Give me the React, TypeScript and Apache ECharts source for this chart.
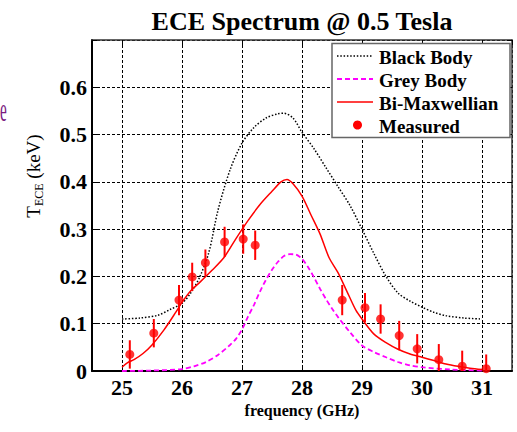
import { useEffect, useRef } from 'react';
import * as echarts from 'echarts';

const SERIF = '"Liberation Serif", "DejaVu Serif", serif';

// Series names, in legend order
const seriesNames = ['Black Body', 'Grey Body', 'Bi-Maxwellian', 'Measured'];

// Black-body emission curve (GHz, keV)
const blackX = [25.0, 25.3, 25.6, 25.8, 26.0, 26.15, 26.3, 26.45, 26.6, 26.8, 27.0, 27.2, 27.4, 27.6, 27.7, 27.85, 28.0, 28.2, 28.4, 28.6, 28.8, 29.0, 29.2, 29.4, 29.6, 29.8, 30.0, 30.2, 30.4, 30.7, 31.0];
const blackY = [0.110, 0.112, 0.118, 0.130, 0.143, 0.166, 0.200, 0.252, 0.340, 0.425, 0.482, 0.515, 0.535, 0.544, 0.545, 0.535, 0.505, 0.470, 0.430, 0.390, 0.350, 0.300, 0.248, 0.200, 0.165, 0.148, 0.135, 0.124, 0.117, 0.112, 0.110];

// Grey-body emission curve
const greyX = [25.0, 25.5, 26.0, 26.2, 26.4, 26.6, 26.8, 26.9, 27.0, 27.1, 27.2, 27.3, 27.4, 27.5, 27.6, 27.7, 27.8, 27.9, 28.0, 28.1, 28.2, 28.3, 28.4, 28.5, 28.6, 28.8, 29.0, 29.2, 29.4, 29.6, 29.8, 30.0, 30.5, 31.0];
const greyY = [0.000, 0.001, 0.004, 0.010, 0.019, 0.034, 0.055, 0.068, 0.088, 0.115, 0.140, 0.168, 0.193, 0.214, 0.231, 0.243, 0.247, 0.246, 0.237, 0.220, 0.198, 0.174, 0.152, 0.132, 0.114, 0.082, 0.054, 0.040, 0.029, 0.019, 0.012, 0.008, 0.003, 0.001];

// Bi-Maxwellian model curve
const biMaxX = [25.0, 25.1, 25.2, 25.35, 25.5, 25.7, 25.9, 26.0, 26.15, 26.3, 26.5, 26.7, 26.9, 27.1, 27.3, 27.5, 27.65, 27.75, 27.85, 28.0, 28.15, 28.3, 28.45, 28.6, 28.75, 28.9, 29.0, 29.2, 29.4, 29.6, 29.8, 30.0, 30.2, 30.4, 30.6, 30.8, 31.0];
const biMaxY = [0.008, 0.018, 0.024, 0.037, 0.055, 0.087, 0.125, 0.145, 0.170, 0.188, 0.213, 0.240, 0.280, 0.318, 0.352, 0.380, 0.400, 0.405, 0.396, 0.370, 0.330, 0.290, 0.240, 0.208, 0.168, 0.128, 0.110, 0.078, 0.060, 0.046, 0.036, 0.029, 0.022, 0.015, 0.010, 0.006, 0.003];

// Measured ECE channels with their uncertainties
const measX = [25.13, 25.53, 25.95, 26.17, 26.39, 26.71, 27.02, 27.22, 28.67, 29.05, 29.31, 29.62, 29.92, 30.28, 30.67, 31.07];
const measY = [0.035, 0.080, 0.150, 0.199, 0.229, 0.273, 0.279, 0.266, 0.150, 0.134, 0.110, 0.075, 0.047, 0.024, 0.010, 0.005];
const measErr = [0.030, 0.030, 0.032, 0.030, 0.028, 0.032, 0.031, 0.031, 0.032, 0.031, 0.031, 0.031, 0.031, 0.033, 0.033, 0.030];

const pairs = (xs: number[], ys: number[]) => xs.map((x, i) => [x, ys[i]]);

const GRID = { left: 92, top: 40, right: 5, bottom: 61 };

const legendRows = [56, 79, 102, 125];
const LEGEND_Z = 100;

function buildOption(): echarts.EChartsOption {
  const tickFont = { fontFamily: SERIF, fontWeight: 'bold' as const, fontSize: 22, color: '#000' };
  const splitLine = { show: true, lineStyle: { color: '#000', type: [3, 2] as number[], width: 1 } };

  const legendChildren: any[] = [
    {
      type: 'rect',
      z: LEGEND_Z,
      shape: { x: 332, y: 43.5, width: 178, height: 94 },
      style: { fill: '#fff', stroke: '#666', lineWidth: 1.5 },
    },
    {
      type: 'line',
      z: LEGEND_Z + 1,
      shape: { x1: 337, y1: legendRows[0], x2: 373, y2: legendRows[0] },
      style: { stroke: '#000', lineWidth: 1.5, lineDash: [1.5, 1.8] },
    },
    {
      type: 'line',
      z: LEGEND_Z + 1,
      shape: { x1: 337, y1: legendRows[1], x2: 373, y2: legendRows[1] },
      style: { stroke: '#ff00ff', lineWidth: 1.8, lineDash: [5, 3] },
    },
    {
      type: 'line',
      z: LEGEND_Z + 1,
      shape: { x1: 337, y1: legendRows[2], x2: 373, y2: legendRows[2] },
      style: { stroke: '#ff0000', lineWidth: 1.5 },
    },
    {
      type: 'circle',
      z: LEGEND_Z + 1,
      shape: { cx: 357.5, cy: legendRows[3], r: 4.5 },
      style: { fill: '#ff0000' },
    },
    ...seriesNames.map((name, i) => ({
      type: 'text',
      z: LEGEND_Z + 1,
      x: 379,
      y: legendRows[i] + 1,
      style: {
        text: name,
        fontFamily: SERIF,
        fontWeight: 'bold',
        fontSize: 19,
        fill: '#000',
        align: 'left',
        verticalAlign: 'middle',
      },
    })),
  ];

  return {
    animation: false,
    backgroundColor: '#fff',
    grid: GRID,
    xAxis: [
      {
        type: 'value',
        min: 24.5,
        max: 31.5,
        splitNumber: 7,
        position: 'bottom',
        axisLine: { show: true, onZero: false, lineStyle: { color: '#000', width: 2 } },
        axisTick: { show: true, inside: true, length: 5, lineStyle: { color: '#000' } },
        axisLabel: {
          ...tickFont,
          margin: 5,
          showMinLabel: false,
          showMaxLabel: false,
          formatter: (v: number) => (Number.isInteger(v) ? String(v) : ''),
        },
        splitLine,
        name: 'frequency (GHz)',
        nameLocation: 'middle',
        nameGap: 22,
        nameTextStyle: { fontFamily: SERIF, fontWeight: 'bold', fontSize: 16, color: '#000' },
      },
      {
        type: 'value',
        min: 24.5,
        max: 31.5,
        splitNumber: 7,
        position: 'top',
        axisLine: { show: true, onZero: false, lineStyle: { color: '#333', width: 1.5 } },
        axisTick: { show: true, inside: true, length: 5, lineStyle: { color: '#000' } },
        axisLabel: { show: false },
        splitLine: { show: false },
      },
    ],
    yAxis: [
      {
        type: 'value',
        min: 0,
        max: 0.7,
        interval: 0.1,
        position: 'left',
        axisLine: { show: true, onZero: false, lineStyle: { color: '#000', width: 2 } },
        axisTick: { show: true, inside: true, length: 5, lineStyle: { color: '#000' } },
        axisLabel: {
          ...tickFont,
          margin: 5,
          formatter: (v: number) => (v > 0.65 ? '' : v === 0 ? '0' : v.toFixed(1)),
        },
        splitLine,
      },
      {
        type: 'value',
        min: 0,
        max: 0.7,
        interval: 0.1,
        position: 'right',
        axisLine: { show: true, onZero: false, lineStyle: { color: '#333', width: 1.5 } },
        axisTick: { show: true, inside: true, length: 5, lineStyle: { color: '#000' } },
        axisLabel: { show: false },
        splitLine: { show: false },
      },
    ],
    series: [
      {
        name: seriesNames[0],
        type: 'line',
        data: pairs(blackX, blackY),
        showSymbol: false,
        smooth: 0.3,
        lineStyle: { color: '#000', width: 1.5, type: [1.5, 1.8] },
        z: 3,
      },
      {
        name: seriesNames[1],
        type: 'line',
        data: pairs(greyX, greyY),
        showSymbol: false,
        smooth: 0.3,
        lineStyle: { color: '#ff00ff', width: 1.8, type: [5, 3] },
        z: 3,
      },
      {
        name: seriesNames[2],
        type: 'line',
        data: pairs(biMaxX, biMaxY),
        showSymbol: false,
        smooth: 0.3,
        lineStyle: { color: '#ff0000', width: 1.5 },
        z: 4,
      },
      {
        name: 'error',
        type: 'custom',
        clip: true,
        data: measX.map((x, i) => [x, measY[i], measErr[i]]),
        renderItem: (_params: any, api: any) => {
          const x = api.value(0);
          const y = api.value(1);
          const e = api.value(2);
          const top = api.coord([x, y + e]);
          const bottom = api.coord([x, y - e]);
          return {
            type: 'line',
            shape: { x1: top[0], y1: top[1], x2: bottom[0], y2: bottom[1] },
            style: { stroke: '#ff0000', lineWidth: 2 },
          };
        },
        z: 5,
      } as any,
      {
        name: seriesNames[3],
        type: 'scatter',
        data: pairs(measX, measY),
        symbol: 'circle',
        symbolSize: 9,
        itemStyle: { color: '#ff0000' },
        z: 6,
      },
    ],
    graphic: [
      {
        type: 'text',
        x: 302,
        y: 21,
        style: {
          text: 'ECE Spectrum @ 0.5 Tesla',
          fontFamily: SERIF,
          fontWeight: 'bold',
          fontSize: 26,
          fill: '#000',
          align: 'center',
          verticalAlign: 'middle',
        },
      },
      {
        type: 'text',
        x: 33,
        y: 176,
        rotation: Math.PI / 2,
        style: {
          text: '{t|T}{s|ECE}{t| (keV)}',
          align: 'center',
          verticalAlign: 'middle',
          fill: '#000',
          rich: {
            t: { fontFamily: SERIF, fontSize: 19, lineHeight: 24, verticalAlign: 'middle', fill: '#000' },
            s: { fontFamily: SERIF, fontSize: 12, lineHeight: 24, verticalAlign: 'bottom', padding: [8, 0, 0, 0], fill: '#000' },
          },
        },
      } as any,
      {
        type: 'text',
        x: 0,
        y: 110,
        scaleX: 0.45,
        style: {
          text: 'e',
          fontFamily: SERIF,
          fontSize: 34,
          fill: '#7a1a80',
          align: 'left',
          verticalAlign: 'middle',
        },
      },
      ...legendChildren,
    ],
  };
}

export default function App() {
  const ref = useRef<HTMLDivElement>(null);
  useEffect(() => {
    if (!ref.current) return;
    const chart = echarts.init(ref.current, null, { renderer: 'svg' });
    chart.setOption(buildOption());
    return () => chart.dispose();
  }, []);
  return (
    <div
      ref={ref}
      style={{ position: 'fixed', left: 0, top: 0, width: 517, height: 432, background: '#fff' }}
    />
  );
}
